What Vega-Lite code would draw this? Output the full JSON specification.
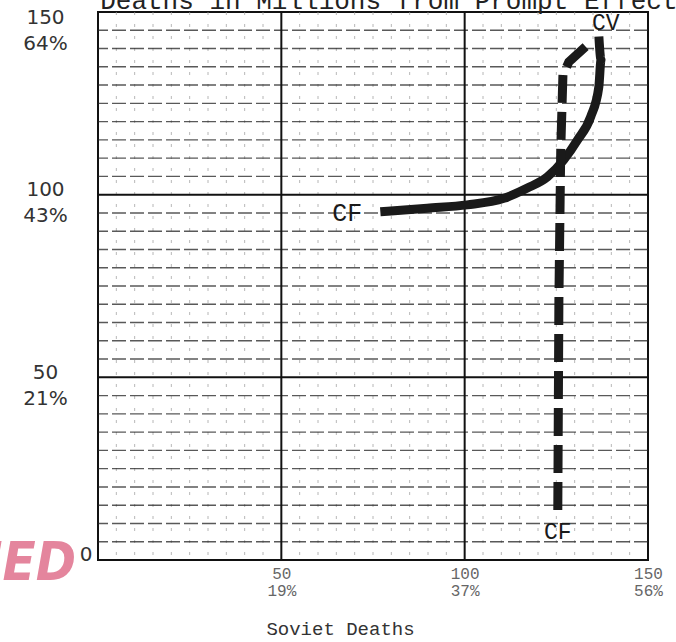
{
  "$schema": "https://vega.github.io/schema/vega-lite/v6.json",
  "width": 550,
  "height": 548,
  "autosize": {"type": "none"},
  "padding": {"left": 98, "top": 12, "right": 28, "bottom": 82},
  "background": "white",
  "config": {
    "view": {"stroke": "#111", "strokeWidth": 2},
    "axis": {"domain": false, "ticks": false, "tickSize": 0, "grid": false, "labelOverlap": false, "labelBound": false, "labelFlush": false}
  },
  "datasets": {
    "gridvals": [
      {"v": 5}, {"v": 10}, {"v": 15}, {"v": 20}, {"v": 25}, {"v": 30}, {"v": 35}, {"v": 40}, {"v": 45},
      {"v": 50}, {"v": 55}, {"v": 60}, {"v": 65}, {"v": 70}, {"v": 75}, {"v": 80}, {"v": 85}, {"v": 90}, {"v": 95},
      {"v": 100}, {"v": 105}, {"v": 110}, {"v": 115}, {"v": 120}, {"v": 125}, {"v": 130}, {"v": 135}, {"v": 140}, {"v": 145}
    ],
    "curves": [
      {"curve": "CV", "order": 1, "soviet": 77.0, "us": 95.3},
      {"curve": "CV", "order": 2, "soviet": 89.8, "us": 96.3},
      {"curve": "CV", "order": 3, "soviet": 100.7, "us": 97.2},
      {"curve": "CV", "order": 4, "soviet": 110.7, "us": 99.0},
      {"curve": "CV", "order": 5, "soviet": 117.1, "us": 101.8},
      {"curve": "CV", "order": 6, "soviet": 122.6, "us": 104.9},
      {"curve": "CV", "order": 7, "soviet": 127.0, "us": 109.5},
      {"curve": "CV", "order": 8, "soviet": 130.8, "us": 115.0},
      {"curve": "CV", "order": 9, "soviet": 134.4, "us": 121.4},
      {"curve": "CV", "order": 10, "soviet": 136.6, "us": 129.6},
      {"curve": "CV", "order": 11, "soviet": 137.2, "us": 136.9},
      {"curve": "CV", "order": 12, "soviet": 136.6, "us": 143.3},
      {"curve": "CF", "order": 1, "soviet": 125.4, "us": 13.7},
      {"curve": "CF", "order": 2, "soviet": 125.7, "us": 71.2},
      {"curve": "CF", "order": 3, "soviet": 126.2, "us": 112.2},
      {"curve": "CF", "order": 4, "soviet": 126.8, "us": 132.8},
      {"curve": "CF", "order": 5, "soviet": 128.4, "us": 136.3},
      {"curve": "CF", "order": 6, "soviet": 134.4, "us": 141.8}
    ],
    "labels": [
      {"text": "CF", "kind": "bold", "soviet": 68.0, "us": 95.0},
      {"text": "CV", "kind": "plain", "soviet": 138.5, "us": 147.0},
      {"text": "CF", "kind": "plain", "soviet": 125.4, "us": 7.7}
    ],
    "heading": [
      {"text": "Deaths in Millions from Prompt Effects", "soviet": 0.6, "us": 150.9}
    ],
    "stamp": [
      {"text": "IED", "soviet": -6.0, "us": -1.2}
    ]
  },
  "layer": [
    {
      "data": {"name": "gridvals"},
      "transform": [{"filter": "datum.v % 50 != 0"}],
      "mark": {"type": "rule", "color": "#999", "strokeWidth": 1, "strokeDash": [3, 9], "opacity": 0.7},
      "encoding": {
        "x": {
          "field": "v", "type": "quantitative",
          "scale": {"domain": [0, 150], "nice": false},
          "axis": {
            "values": [0, 50, 100, 150],
            "title": "Soviet Deaths",
            "titleFont": "Liberation Mono",
            "titleFontSize": 19,
            "titleFontWeight": "normal",
            "titleColor": "#333",
            "titleX": 242,
            "titleY": 74,
            "titleBaseline": "alphabetic",
            "labelExpr": "datum.value == 50 ? ['50', '19%'] : datum.value == 100 ? ['100', '37%'] : datum.value == 150 ? ['150', '56%'] : ''",
            "labelFont": "Liberation Mono",
            "labelFontSize": 16,
            "labelLineHeight": 17,
            "labelColor": "#666",
            "labelPadding": 5,
            "labelBaseline": "top"
          }
        }
      }
    },
    {
      "data": {"name": "gridvals"},
      "transform": [{"filter": "datum.v % 50 != 0"}],
      "mark": {"type": "rule", "color": "#222", "strokeWidth": 1.4, "strokeDash": [14, 4], "opacity": 0.75},
      "encoding": {
        "y": {
          "field": "v", "type": "quantitative",
          "scale": {"domain": [0, 150], "nice": false},
          "axis": {
            "values": [0, 50, 100, 150],
            "title": null,
            "labelExpr": "datum.value == 150 ? ['150', '64%'] : datum.value == 100 ? ['100', '43%'] : datum.value == 50 ? ['50', '21%'] : datum.value == 0 ? '0' : ''",
            "labelFont": "DejaVu Sans",
            "labelFontSize": 20,
            "labelLineHeight": 26,
            "labelColor": "#333",
            "labelAlign": {"condition": {"test": "datum.value == 0", "value": "right"}, "value": "center"},
            "labelBaseline": {"condition": {"test": "datum.value == 150", "value": "top"}, "value": "middle"},
            "labelPadding": {"condition": {"test": "datum.value == 0", "value": 6}, "value": 53},
            "labelOffset": {"condition": {"test": "datum.value == 0", "value": -6}, "value": -5}
          }
        }
      }
    },
    {
      "data": {"name": "gridvals"},
      "transform": [{"filter": "datum.v == 50 || datum.v == 100"}],
      "mark": {"type": "rule", "color": "#111", "strokeWidth": 2},
      "encoding": {
        "x": {"field": "v", "type": "quantitative"}
      }
    },
    {
      "data": {"name": "gridvals"},
      "transform": [{"filter": "datum.v == 50 || datum.v == 100"}],
      "mark": {"type": "rule", "color": "#111", "strokeWidth": 2},
      "encoding": {
        "y": {"field": "v", "type": "quantitative"}
      }
    },
    {
      "data": {"name": "curves"},
      "transform": [{"filter": "datum.curve === 'CV'"}],
      "mark": {"type": "line", "color": "#1a1a1a", "strokeWidth": 9, "strokeCap": "butt", "strokeJoin": "round", "interpolate": "monotone"},
      "encoding": {
        "x": {"field": "soviet", "type": "quantitative"},
        "y": {"field": "us", "type": "quantitative"},
        "order": {"field": "order", "type": "quantitative"}
      }
    },
    {
      "data": {"name": "curves"},
      "transform": [{"filter": "datum.curve === 'CF'"}],
      "mark": {"type": "line", "color": "#1a1a1a", "strokeWidth": 9, "strokeCap": "butt", "strokeDash": [28, 9]},
      "encoding": {
        "x": {"field": "soviet", "type": "quantitative"},
        "y": {"field": "us", "type": "quantitative"},
        "order": {"field": "order", "type": "quantitative"}
      }
    },
    {
      "data": {"name": "labels"},
      "mark": {"type": "text", "font": "Liberation Mono", "align": "center", "baseline": "middle", "color": "#1a1a1a"},
      "encoding": {
        "x": {"field": "soviet", "type": "quantitative"},
        "y": {"field": "us", "type": "quantitative"},
        "text": {"field": "text"},
        "size": {"condition": {"test": "datum.kind === 'bold'", "value": 25}, "value": 23},
        "fontWeight": {"condition": {"test": "datum.kind === 'bold'", "value": "bold"}, "value": "normal"}
      }
    },
    {
      "data": {"name": "heading"},
      "mark": {"type": "text", "font": "Liberation Mono", "fontSize": 26, "align": "left", "baseline": "alphabetic", "color": "#222"},
      "encoding": {
        "x": {"field": "soviet", "type": "quantitative"},
        "y": {"field": "us", "type": "quantitative"},
        "text": {"field": "text"}
      }
    },
    {
      "data": {"name": "stamp"},
      "mark": {"type": "text", "font": "DejaVu Sans Condensed", "fontSize": 54, "fontStyle": "italic", "fontWeight": "bold", "align": "right", "baseline": "middle", "color": "#e0708c", "opacity": 0.85},
      "encoding": {
        "x": {"field": "soviet", "type": "quantitative"},
        "y": {"field": "us", "type": "quantitative"},
        "text": {"field": "text"}
      }
    }
  ]
}
